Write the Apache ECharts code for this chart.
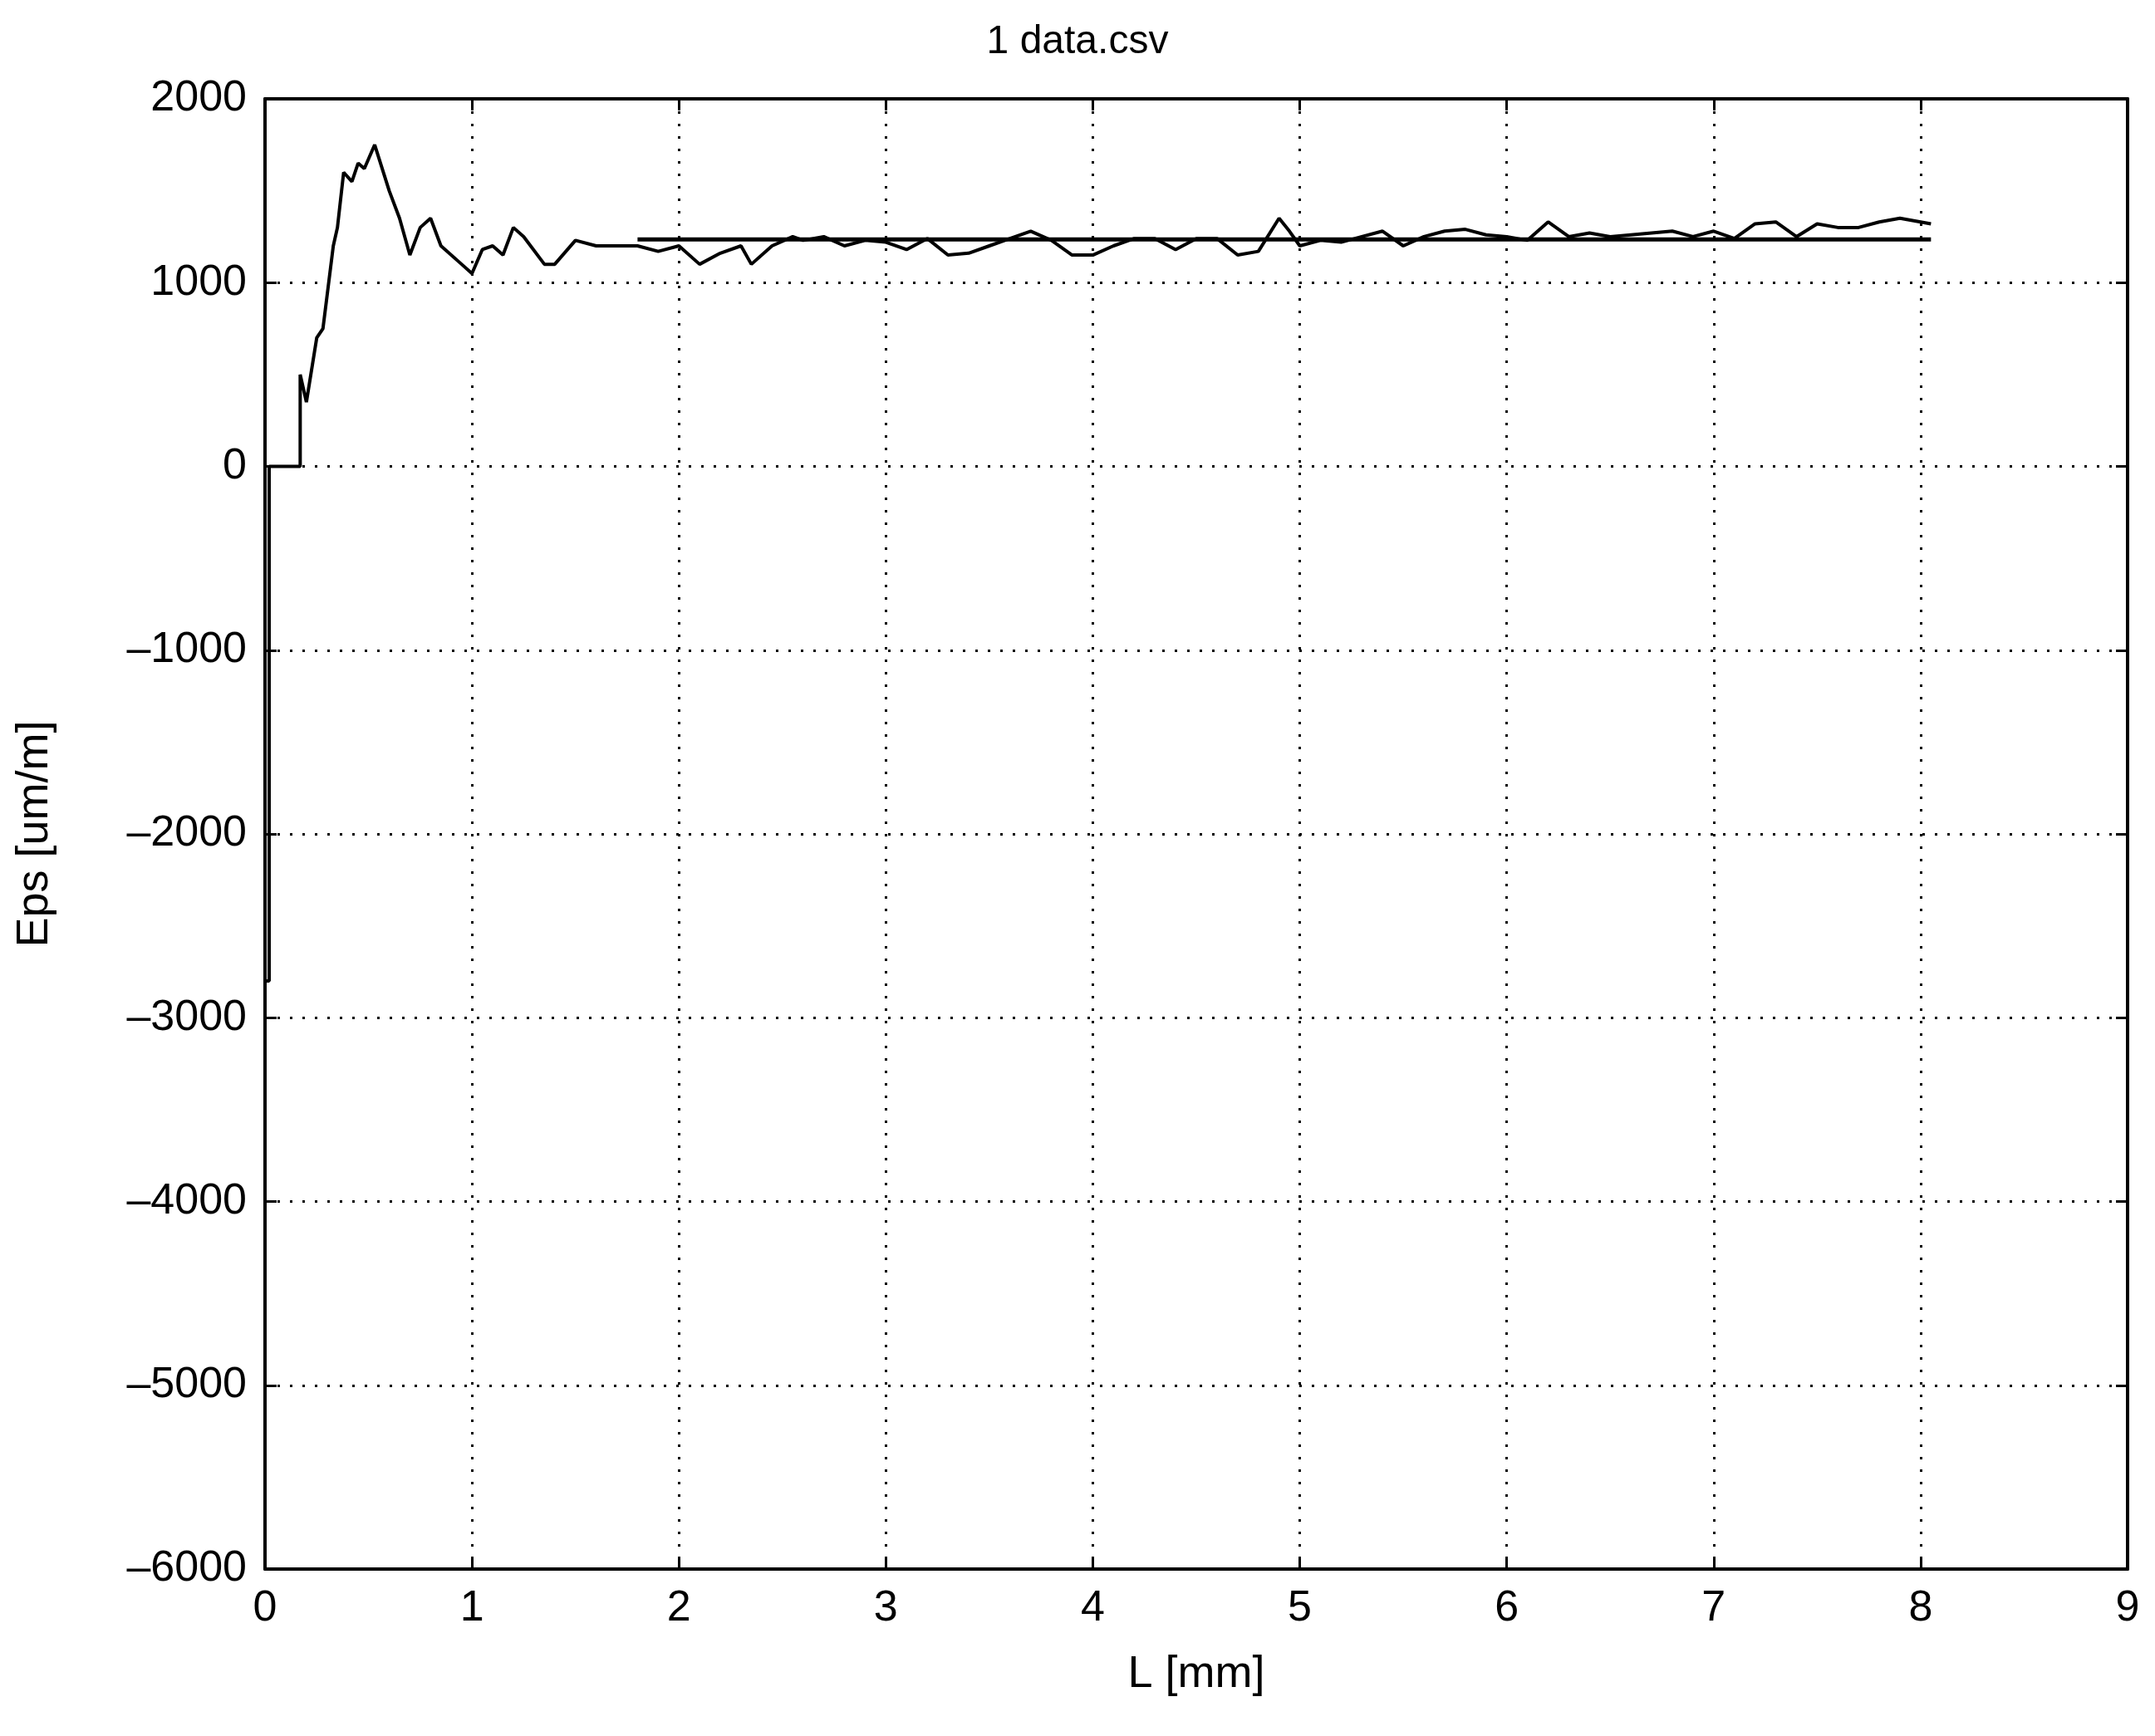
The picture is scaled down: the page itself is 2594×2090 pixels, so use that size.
<!DOCTYPE html>
<html>
<head>
<meta charset="utf-8">
<script src="https://cdn.jsdelivr.net/npm/echarts@6/dist/echarts.min.js"></script>
<style>html,body{margin:0;padding:0;background:#fff}#chart{width:2594px;height:2090px}</style>
</head>
<body>
<div id="chart"></div>
<script>
// measured strain curve
var xs = [0, 0.02, 0.02, 0.17, 0.17, 0.2, 0.25, 0.28, 0.33, 0.35, 0.38, 0.42, 0.45, 0.48, 0.53, 0.6, 0.65, 0.7, 0.75, 0.8, 0.85, 0.95, 1.0, 1.05, 1.1, 1.15, 1.2, 1.25, 1.35, 1.4, 1.5, 1.6, 1.7,
  1.8, 1.9, 2.0, 2.1, 2.2, 2.3, 2.35, 2.45, 2.55, 2.6, 2.7, 2.8, 2.9, 3.0, 3.1, 3.2, 3.3, 3.4, 3.5, 3.6, 3.7, 3.8, 3.9, 4.0, 4.1, 4.2, 4.3, 4.4, 4.5, 4.6, 4.7, 4.8, 4.9, 4.95, 5.0, 5.1, 5.2, 5.3, 5.4, 5.5, 5.6, 5.7, 5.8, 5.9, 6.0, 6.1, 6.2, 6.3, 6.4, 6.5, 6.6, 6.7, 6.8, 6.9, 7.0, 7.1, 7.2, 7.3, 7.4, 7.5, 7.6, 7.7, 7.8, 7.9, 8.05];
var ys = [-2800, -2800, 0, 0, 500, 350, 700, 750, 1200, 1300, 1600, 1550, 1650, 1620, 1750, 1500, 1350, 1150, 1300, 1350, 1200, 1100, 1050, 1180, 1200, 1150, 1300, 1250, 1100, 1100, 1230, 1200, 1200,
  1200, 1170, 1200, 1100, 1160, 1200, 1100, 1200, 1250, 1230, 1250, 1200, 1230, 1220, 1180, 1240, 1150, 1160, 1200, 1240, 1280, 1230, 1150, 1150, 1200, 1240, 1240, 1180, 1240, 1240, 1150, 1170, 1350, 1280, 1200, 1230, 1220, 1250, 1280, 1200, 1250, 1280, 1290, 1260, 1250, 1230, 1330, 1250, 1270, 1250, 1260, 1270, 1280, 1250, 1280, 1240, 1320, 1330, 1250, 1320, 1300, 1300, 1330, 1350, 1320];
// fitted mean level
var meanX = [1.8, 8.05];
var meanY = [1235, 1235];

var myChart = echarts.init(document.getElementById("chart"));
var font = "Liberation Sans";
var axisLine = { show: true, onZero: false, lineStyle: { color: "#000", width: 4 } };
var axisTick = { show: true, inside: true, length: 14, lineStyle: { color: "#000", width: 3 } };
var xAxisBase = { type: "value", min: 0, max: 9, interval: 1, axisLine: axisLine, axisTick: axisTick };
var yAxisBase = { type: "value", min: -6000, max: 2000, interval: 1000, axisLine: axisLine, axisTick: axisTick };
var option = {
  backgroundColor: "#fff",
  animation: false,
  title: {
    text: "1 data.csv", left: "center", top: 22,
    textStyle: { fontFamily: font, fontWeight: "normal", fontSize: 48, color: "#000" },
  },
  grid: { left: 319, right: 33, top: 119, bottom: 201 },
  xAxis: [
    Object.assign({}, xAxisBase, {
      position: "bottom",
      name: "L [mm]", nameLocation: "middle", nameGap: 100,
      nameTextStyle: { fontFamily: font, fontSize: 54, color: "#000" },
      axisLabel: { fontFamily: font, fontSize: 52, color: "#000", margin: 22 },
      splitLine: { show: true, lineStyle: { color: "#000", width: 3, type: [3, 12] } },
    }),
    Object.assign({}, xAxisBase, { position: "top", axisLabel: { show: false }, splitLine: { show: false } }),
  ],
  yAxis: [
    Object.assign({}, yAxisBase, {
      position: "left",
      name: "Eps [um/m]", nameLocation: "middle", nameGap: 250,
      nameTextStyle: { fontFamily: font, fontSize: 54, color: "#000" },
      axisLabel: { fontFamily: font, fontSize: 52, color: "#000", margin: 22,
        formatter: function (v) { return v < 0 ? "\u2013" + Math.abs(v) : String(v); } },
      splitLine: { show: true, lineStyle: { color: "#000", width: 3, type: [3, 12] } },
    }),
    Object.assign({}, yAxisBase, { position: "right", axisLabel: { show: false }, splitLine: { show: false } }),
  ],
  series: [
    {
      type: "line", showSymbol: false,
      data: xs.map(function (x, i) { return [x, ys[i]]; }),
      lineStyle: { color: "#000", width: 4 },
    },
    {
      type: "line", showSymbol: false,
      data: meanX.map(function (x, i) { return [x, meanY[i]]; }),
      lineStyle: { color: "#000", width: 5 },
    },
  ],
};
myChart.setOption(option, true);
</script>
</body>
</html>
